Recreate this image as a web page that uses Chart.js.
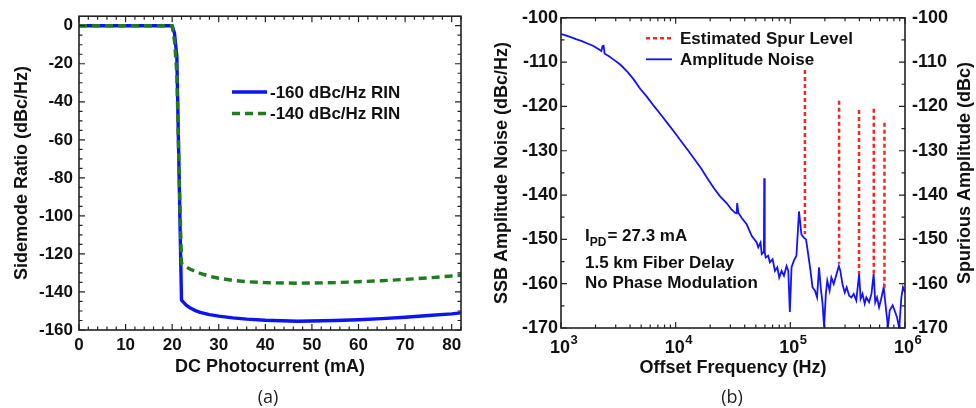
<!DOCTYPE html>
<html>
<head>
<meta charset="utf-8">
<script src="https://cdn.jsdelivr.net/npm/chart.js@4.4.0/dist/chart.umd.min.js"></script>
<style>
  html, body { margin: 0; padding: 0; background: #fff; }
  #wrap { position: relative; width: 976px; height: 408px; overflow: hidden; }
  .panel { position: absolute; top: 0; height: 408px; }
  #left { left: 0; width: 490px; }
  #right { left: 490px; width: 486px; }
  .cap { position: absolute; top: 384px; font: 18px "Open Sans", sans-serif; color: #222; transform: translateX(-50%); }
</style>
</head>
<body>
<div id="wrap">
  <div class="panel" id="left"><canvas id="chartA"></canvas></div>
  <div class="panel" id="right"><canvas id="chartB"></canvas></div>
  <div class="cap" style="left:268px">(a)</div>
  <div class="cap" style="left:732px">(b)</div>
</div>
<script>
// (a) sidemode ratio vs DC photocurrent
const currentRin160 = [0, 20, 20.5, 21, 22, 23, 24, 25, 26, 28, 30, 33, 36, 40, 47, 55, 60, 65, 70, 75, 80, 82];
const sidemodeRin160 = [0, 0, -4, -16, -144.3, -146.9, -148.6, -149.8, -150.7, -151.9, -152.7, -153.6, -154.3, -154.9, -155.4, -155, -154.6, -154, -153.3, -152.4, -151.5, -151];
const currentRin140 = [0, 20, 20.5, 21, 21.5, 22, 23, 24, 26, 28, 30, 33, 36, 40, 47, 55, 60, 65, 70, 75, 80, 82];
const sidemodeRin140 = [0, 0, -8, -25, -78, -125, -126.8, -128.2, -130.2, -131.7, -132.8, -133.9, -134.6, -135.1, -135.4, -135.1, -134.6, -134.1, -133.4, -132.6, -131.6, -131.2];

// (b) SSB amplitude noise and spur estimates
const noiseFreq = [1000, 1080, 1200, 1350, 1500, 1700, 1900, 2100, 2250, 2300, 2350, 2400, 2600, 2900, 3300, 3800, 4300, 4900, 5600, 6500,
  7500, 8600, 9800, 11200, 12800, 14600, 16700, 19000, 21500, 24400, 27800, 30800, 32900, 34000, 34400, 35200, 37700, 41600, 46000, 50900,
  52500, 55000, 56300, 58800, 59200, 59800, 61000, 64100, 66300, 70000, 73500, 77000, 80000, 83900, 88000, 92700, 96000, 99000, 102500, 107400,
  113000, 119000, 125000, 131000, 137000, 143000, 150000, 156000, 164000, 171000, 178000, 184000, 191000, 197000, 204000, 210000, 220000, 228000, 239000, 253000,
  265000, 273000, 285000, 298000, 310000, 326000, 341000, 357000, 376000, 398000, 410000, 426000, 445000, 460000, 486000, 510000, 533000, 550000, 570000, 594000,
  620000, 652000, 680000, 710000, 736000, 780000, 810000, 850000, 890000, 930000, 960000, 1000000];
const noiseLevel = [-103.7, -103.9, -104.3, -104.8, -105.2, -105.8, -106.3, -107.0, -107.5, -106.4, -106.3, -108.1, -108.6, -109.5, -110.6, -112.2, -113.9, -116.0, -117.8, -120.0,
  -122.0, -124.0, -125.9, -127.9, -129.9, -131.9, -134.0, -136.3, -138.4, -140.3, -141.8, -143.3, -144.0, -144.1, -141.8, -144.0, -145.2, -146.6, -149.2, -150.7,
  -151.8, -150.7, -153.3, -152.8, -136.2, -152.8, -154.1, -153.7, -155.2, -154.5, -157.1, -156.3, -158.6, -157.1, -158.2, -156.0, -157.1, -166.4, -156.3, -154.8,
  -153.7, -143.7, -148.9, -149.6, -150.0, -153.3, -157.1, -160.8, -161.6, -163.1, -156.3, -160.8, -164.5, -169.8, -162.3, -159.3, -161.6, -158.6, -160.1, -157.8,
  -156.0, -157.1, -160.1, -162.0, -160.8, -162.7, -163.1, -162.3, -163.8, -157.8, -163.4, -162.3, -164.5, -163.1, -164.2, -162.3, -157.8, -164.2, -163.1, -165.3,
  -163.4, -160.8, -165.3, -169.8, -166.0, -164.9, -166.0, -167.5, -170.0, -163.1, -160.8, -162.0];
const spurFreq = [134000, 266000, 397000, 534000, 662000];
const spurTop = [-111.8, -118.7, -120.8, -120.5, -123.7];
const spurBase = [-148.8, -155.5, -157.8, -157.8, -161.2];

const FONT = '"Liberation Sans", Arial, sans-serif';
Chart.defaults.font.family = FONT;
Chart.defaults.color = '#111';

function pts(xs, ys) {
  return xs.map((x, i) => ({ x: x, y: ys[i] }));
}

function spurPoints() {
  const out = [];
  spurFreq.forEach((f, i) => {
    out.push({ x: f, y: spurTop[i] }, { x: f, y: spurBase[i] }, { x: f, y: null });
  });
  return out;
}

// box around the plot plus inward ticks on all four sides
const frameTicks = {
  id: 'frameTicks',
  afterDraw(chart, args, opts) {
    const { ctx, chartArea: a, scales } = chart;
    const sx = scales.x, sy = scales.y;
    ctx.save();
    ctx.strokeStyle = '#222';
    ctx.lineWidth = 1.2;
    ctx.beginPath();
    const xt = (vals, len) => vals.forEach(v => {
      const p = sx.getPixelForValue(v);
      ctx.moveTo(p, a.bottom); ctx.lineTo(p, a.bottom - len);
      ctx.moveTo(p, a.top); ctx.lineTo(p, a.top + len);
    });
    const yt = (vals, len) => vals.forEach(v => {
      const p = sy.getPixelForValue(v);
      ctx.moveTo(a.left, p); ctx.lineTo(a.left + len, p);
      ctx.moveTo(a.right, p); ctx.lineTo(a.right - len, p);
    });
    xt(opts.xMajor, 6); xt(opts.xMinor, 3.5);
    yt(opts.yMajor, 6); yt(opts.yMinor, 3.5);
    ctx.stroke();
    ctx.lineWidth = 1.6;
    ctx.strokeRect(a.left, a.top, a.right - a.left, a.bottom - a.top);
    ctx.restore();
  }
};

// legend drawn inside the plot area
const boxLegend = {
  id: 'boxLegend',
  afterDraw(chart, args, opts) {
    const ctx = chart.ctx;
    ctx.save();
    ctx.font = 'bold 17px ' + FONT;
    ctx.textBaseline = 'middle';
    ctx.textAlign = 'left';
    opts.order.forEach((di, row) => {
      const ds = chart.data.datasets[di];
      const y = opts.y + row * opts.rowGap;
      ctx.strokeStyle = ds.borderColor;
      ctx.lineWidth = ds.borderWidth;
      ctx.setLineDash(ds.borderDash || []);
      ctx.beginPath();
      ctx.moveTo(opts.x, y);
      ctx.lineTo(opts.x + opts.len, y);
      ctx.stroke();
      ctx.setLineDash([]);
      ctx.fillStyle = '#111';
      ctx.fillText(ds.label, opts.x + opts.len + opts.gap, y + 1);
    });
    ctx.restore();
  }
};

// decade labels, annotation and right-hand title of panel (b)
const panelNotes = {
  id: 'panelNotes',
  afterDraw(chart) {
    const { ctx, chartArea: a, scales } = chart;
    const sx = scales.x;
    ctx.save();
    ctx.fillStyle = '#111';
    ctx.textBaseline = 'alphabetic';
    [3, 4, 5, 6].forEach(k => {
      const px = sx.getPixelForValue(Math.pow(10, k));
      ctx.font = 'bold 18px ' + FONT;
      ctx.textAlign = 'right';
      ctx.fillText('10', px + 9, a.bottom + 25);
      ctx.font = 'bold 13px ' + FONT;
      ctx.textAlign = 'left';
      ctx.fillText(String(k), px + 9.5, a.bottom + 16);
    });

    const tx = a.left + 24;
    ctx.textAlign = 'left';
    ctx.font = 'bold 17px ' + FONT;
    ctx.fillText('I', tx, 241);
    let w = ctx.measureText('I').width;
    ctx.font = 'bold 12px ' + FONT;
    ctx.fillText('PD', tx + w, 246);
    w += ctx.measureText('PD').width;
    ctx.font = 'bold 17px ' + FONT;
    ctx.fillText('= 27.3 mA', tx + w + 1, 241);
    ctx.fillText('1.5 km Fiber Delay', tx, 268);
    ctx.fillText('No Phase Modulation', tx, 288);

    ctx.translate(475, (a.top + a.bottom) / 2);
    ctx.rotate(-Math.PI / 2);
    ctx.font = 'bold 18px ' + FONT;
    ctx.textAlign = 'center';
    ctx.textBaseline = 'middle';
    ctx.fillText('Spurious Amplitude (dBc)', 0, 0);
    ctx.restore();
  }
};

function range(a, b, step, skip) {
  const out = [];
  for (let v = a; v <= b + 1e-9; v += step) {
    if (!skip || Math.abs(v % skip) > 1e-9) out.push(v);
  }
  return out;
}

const logMinor = [];
[1e3, 1e4, 1e5].forEach(d => { for (let m = 2; m <= 9; m++) logMinor.push(m * d); });

const tickFont = { size: 17, weight: 'bold' };
const titleFont = { size: 18, weight: 'bold' };
const noGrid = { display: false, drawTicks: false };

new Chart(document.getElementById('chartA'), {
  type: 'line',
  data: {
    datasets: [
      { label: '-160 dBc/Hz RIN', data: pts(currentRin160, sidemodeRin160), borderColor: '#0a14f5', borderWidth: 3.4,
        pointRadius: 0, tension: 0, borderJoinStyle: 'round', order: 2 },
      { label: '-140 dBc/Hz RIN', data: pts(currentRin140, sidemodeRin140), borderColor: '#1e7d1e', borderWidth: 3.4,
        borderDash: [8, 5], pointRadius: 0, tension: 0, borderJoinStyle: 'round', order: 1 }
    ]
  },
  options: {
    responsive: true,
    maintainAspectRatio: false,
    animation: false,
    layout: { padding: { top: 15, right: 29, bottom: 26, left: 0 } },
    plugins: {
      legend: { display: false },
      tooltip: { enabled: false },
      frameTicks: { xMajor: range(0, 80, 10), xMinor: range(2, 82, 2, 10), yMajor: range(-160, 0, 20), yMinor: range(-155, 0, 5, 20) },
      boxLegend: { x: 232, y: 92, rowGap: 21.5, len: 35, gap: 3, order: [0, 1] }
    },
    scales: {
      x: {
        type: 'linear', min: 0, max: 82,
        grid: noGrid, border: { display: false },
        ticks: { stepSize: 10, includeBounds: false, font: tickFont, padding: 5, maxRotation: 0 },
        title: { display: true, text: 'DC Photocurrent (mA)', font: titleFont, padding: { top: 0, bottom: 4 } },
        afterFit: s => { s.height = 52; }
      },
      y: {
        type: 'linear', min: -160, max: 5,
        grid: noGrid, border: { display: false },
        ticks: { stepSize: 20, includeBounds: false, font: tickFont, padding: 6 },
        title: { display: true, text: 'Sidemode Ratio (dBc/Hz)', font: titleFont, padding: { top: 11, bottom: 0 } },
        afterFit: s => { s.width = 79; }
      }
    }
  },
  plugins: [frameTicks, boxLegend]
});

new Chart(document.getElementById('chartB'), {
  type: 'line',
  data: {
    datasets: [
      { label: 'Amplitude Noise', data: pts(noiseFreq, noiseLevel), borderColor: '#1212ff', borderWidth: 1.8,
        pointRadius: 0, tension: 0, yAxisID: 'y', order: 2 },
      { label: 'Estimated Spur Level', data: spurPoints(), borderColor: '#ff2222', borderWidth: 2.5,
        borderDash: [4, 3], pointRadius: 0, spanGaps: false, yAxisID: 'y2', order: 1 }
    ]
  },
  options: {
    responsive: true,
    maintainAspectRatio: false,
    animation: false,
    layout: { padding: { top: 15, right: 0, bottom: 25, left: 0 } },
    plugins: {
      legend: { display: false },
      tooltip: { enabled: false },
      frameTicks: { xMajor: [1e3, 1e4, 1e5, 1e6], xMinor: logMinor, yMajor: range(-170, -100, 10), yMinor: range(-165, -105, 10) },
      boxLegend: { x: 156, y: 38.3, rowGap: 21, len: 26, gap: 8, order: [1, 0] }
    },
    scales: {
      x: {
        type: 'logarithmic', min: 1e3, max: 1e6,
        grid: noGrid, border: { display: false },
        ticks: { display: false },
        title: { display: true, text: 'Offset Frequency (Hz)', font: titleFont, padding: { top: 0, bottom: 4 } },
        afterFit: s => { s.height = 55; }
      },
      y: {
        type: 'linear', position: 'left', min: -170, max: -100,
        grid: noGrid, border: { display: false },
        ticks: { stepSize: 10, font: { size: 18, weight: 'bold' }, padding: 3 },
        title: { display: true, text: 'SSB Amplitude Noise (dBc/Hz)', font: titleFont, padding: { top: 1, bottom: 0 } },
        afterFit: s => { s.width = 71; }
      },
      y2: {
        type: 'linear', position: 'right', min: -170, max: -100,
        grid: noGrid, border: { display: false },
        ticks: { stepSize: 10, font: { size: 18, weight: 'bold' }, padding: 7 },
        afterFit: s => { s.width = 71; }
      }
    }
  },
  plugins: [frameTicks, boxLegend, panelNotes]
});
</script>
</body>
</html>
